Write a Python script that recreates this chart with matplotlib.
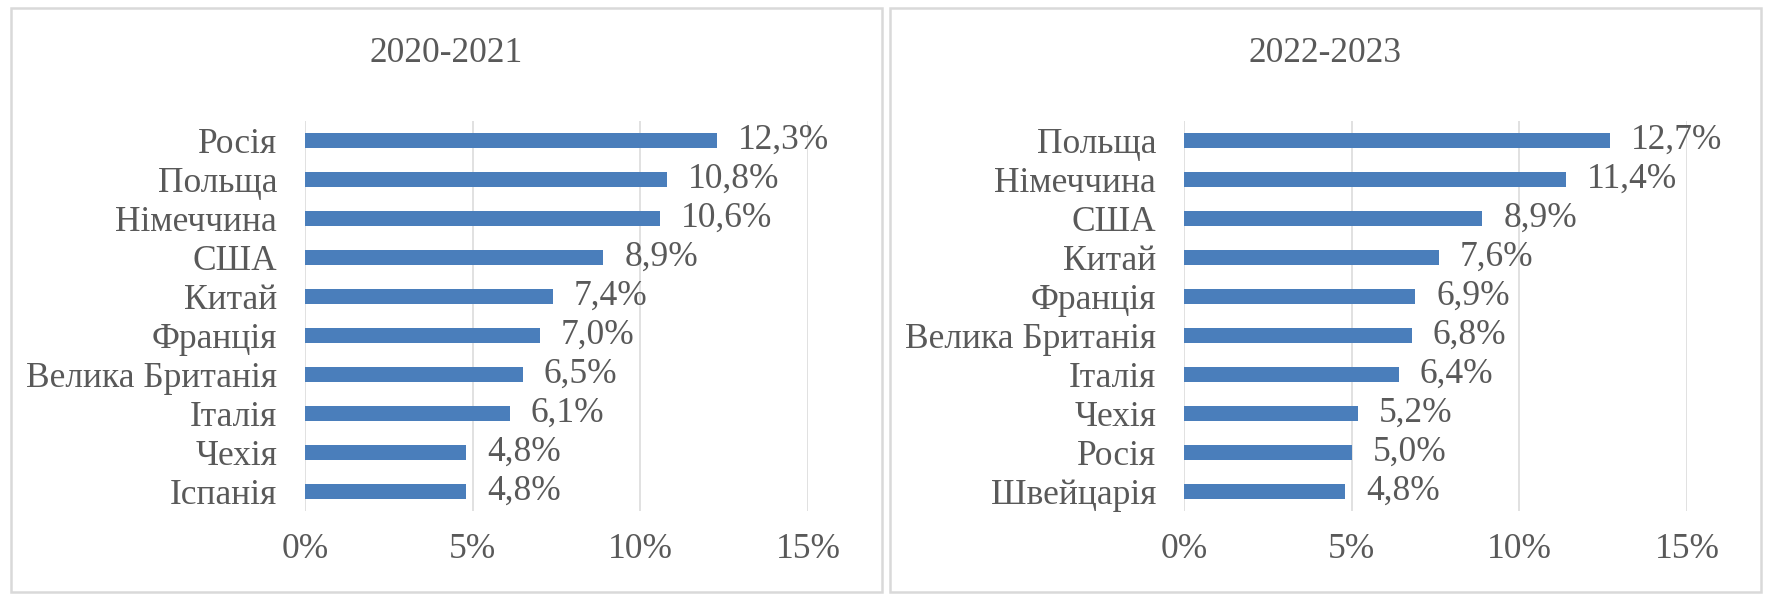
import matplotlib
matplotlib.use("Agg")
import matplotlib.pyplot as plt
from matplotlib.patches import Rectangle

# Data
titles = ["2020-2021", "2022-2023"]
cats1 = ["Росія", "Польща", "Німеччина", "США", "Китай", "Франція",
         "Велика Британія", "Італія", "Чехія", "Іспанія"]
vals1 = [12.3, 10.8, 10.6, 8.9, 7.4, 7.0, 6.5, 6.1, 4.8, 4.8]
cats2 = ["Польща", "Німеччина", "США", "Китай", "Франція",
         "Велика Британія", "Італія", "Чехія", "Росія", "Швейцарія"]
vals2 = [12.7, 11.4, 8.9, 7.6, 6.9, 6.8, 6.4, 5.2, 5.0, 4.8]
xticks = [0, 5, 10, 15]
xticklabels = ["0%", "5%", "10%", "15%"]

plt.rcParams['font.family'] = ['Liberation Serif', 'DejaVu Serif']
TXT = "#595959"
BAR = "#4A7EBB"
GRID = "#D9D9D9"
FS = 25.5

W, H = 1772, 600
fig = plt.figure(figsize=(W / 100, H / 100), dpi=100)

panels = [(11, 882), (890, 1761)]
axes_x = [305, 1184]
ax_w = 503
ax_top, ax_bot = 121, 511

for i, (cats, vals) in enumerate([(cats1, vals1), (cats2, vals2)]):
    px0, px1 = panels[i]
    fig.patches.append(Rectangle((px0 / W, 1 - 592 / H), (px1 - px0) / W, (592 - 8) / H,
                                 transform=fig.transFigure, fill=False,
                                 edgecolor=GRID, linewidth=1.8, zorder=0))
    fig.text((px0 + px1) / 2 / W, 1 - 54 / H, titles[i], ha='center', va='center',
             fontsize=FS, color=TXT)
    ax = fig.add_axes([axes_x[i] / W, 1 - ax_bot / H, ax_w / W, (ax_bot - ax_top) / H])
    y = list(range(len(cats)))
    ax.barh(y, vals, height=0.38, color=BAR, zorder=3)
    ax.set_ylim(len(cats) - 0.5, -0.5)
    ax.set_xlim(0, 15)
    ax.set_yticks(y)
    ax.set_yticklabels(cats, fontsize=FS, color=TXT)
    ax.set_xticks(xticks)
    ax.set_xticklabels(xticklabels, fontsize=FS, color=TXT)
    ax.tick_params(axis='both', length=0)
    ax.tick_params(axis='y', pad=20)
    ax.tick_params(axis='x', pad=16)
    for s in ax.spines.values():
        s.set_visible(False)
    ax.xaxis.grid(True, color=GRID, linewidth=1.1, zorder=0)
    ax.set_axisbelow(True)
    for yy, v in zip(y, vals):
        ax.annotate(f"{v:.1f}%".replace('.', ','), (v, yy), xytext=(15, 0),
                    textcoords='offset points', ha='left', va='center',
                    fontsize=FS, color=TXT)

fig.savefig("out.png", dpi=100, facecolor='white')
